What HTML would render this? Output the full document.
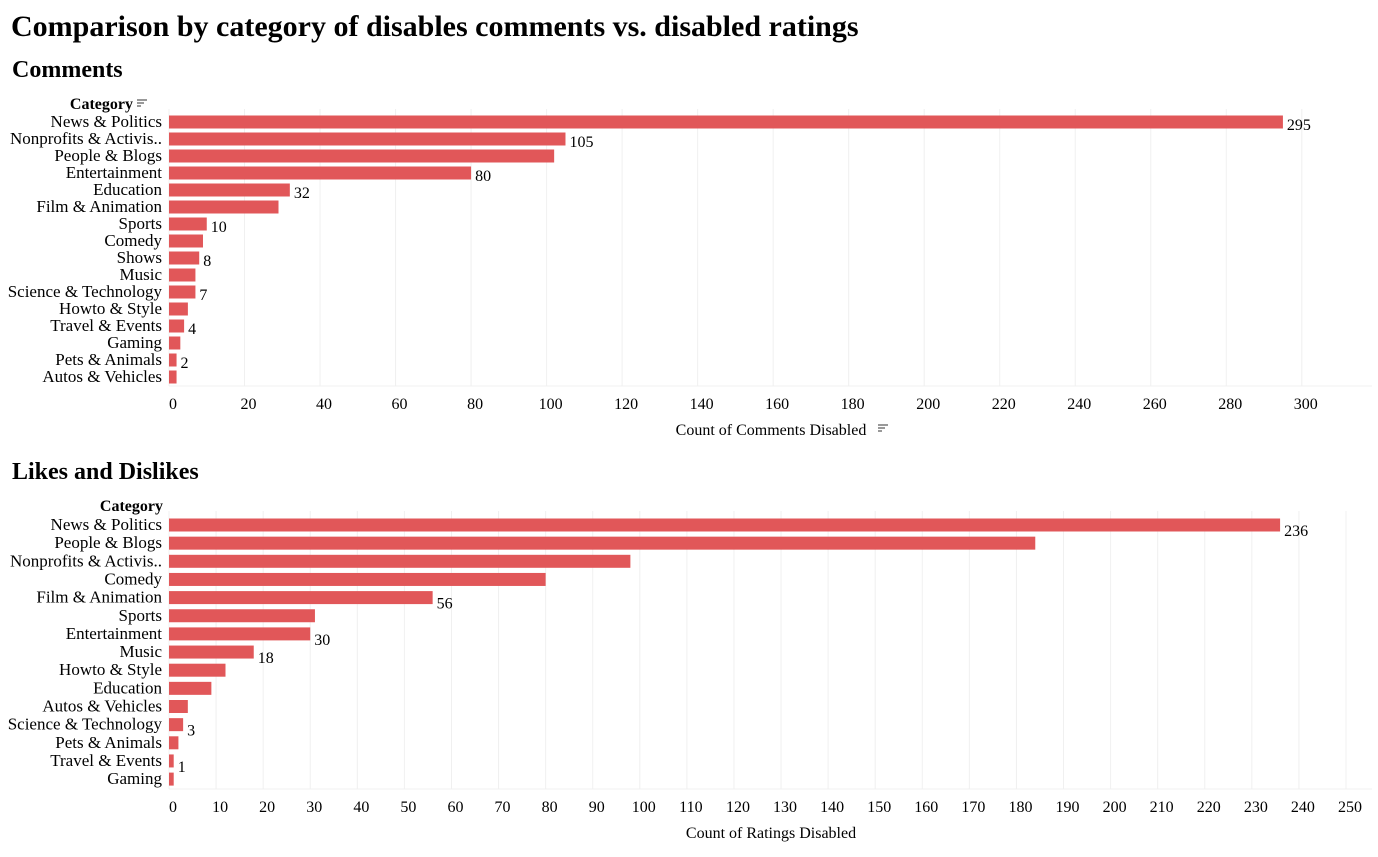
<!DOCTYPE html>
<html><head><meta charset="utf-8"><style>
body{margin:0;background:#fff;font-family:"Liberation Serif",serif;}
svg text{font-family:"Liberation Serif",serif;}
</style></head><body>
<svg id="c" width="1378" height="852">
<text x="11" y="36" font-size="30" font-weight="bold">Comparison by category of disables comments vs. disabled ratings</text>
<text x="12" y="77" font-size="24" font-weight="bold">Comments</text>
<text x="12" y="479" font-size="24" font-weight="bold">Likes and Dislikes</text>
<g stroke="#555" stroke-width="1.2"><line x1="137" x2="147" y1="100" y2="100"/><line x1="137" x2="144" y1="103" y2="103"/><line x1="137" x2="141" y1="106" y2="106"/></g>
<g stroke="#555" stroke-width="1.2"><line x1="878" x2="888" y1="425" y2="425"/><line x1="878" x2="885" y1="428" y2="428"/><line x1="878" x2="882" y1="431" y2="431"/></g>
<g id="g1"></g><g id="g2"></g>
</svg>
<script>
const cats1=["News & Politics","Nonprofits & Activis..","People & Blogs","Entertainment","Education","Film & Animation","Sports","Comedy","Shows","Music","Science & Technology","Howto & Style","Travel & Events","Gaming","Pets & Animals","Autos & Vehicles"];
const vals1=[295,105,102,80,32,29,10,9,8,7,7,5,4,3,2,2];
const lbl1=[true,true,false,true,true,false,true,false,true,false,true,false,true,false,true,false];
const ticks1=[0,20,40,60,80,100,120,140,160,180,200,220,240,260,280,300];
const cats2=["News & Politics","People & Blogs","Nonprofits & Activis..","Comedy","Film & Animation","Sports","Entertainment","Music","Howto & Style","Education","Autos & Vehicles","Science & Technology","Pets & Animals","Travel & Events","Gaming"];
const vals2=[236,184,98,80,56,31,30,18,12,9,4,3,2,1,1];
const lbl2=[true,false,false,false,true,false,true,true,false,false,false,true,false,true,false];
const ticks2=[0,10,20,30,40,50,60,70,80,90,100,110,120,130,140,150,160,170,180,190,200,210,220,230,240,250];
const NS="http://www.w3.org/2000/svg";
function mk(p,t,a){const e=document.createElementNS(NS,t);for(const k in a)e.setAttribute(k,a[k]);p.appendChild(e);return e;}
function draw(g,cats,vals,lbl,ticks,o){
  const x=v=>o.x0+v*o.sc;
  ticks.forEach(t=>{
    const l=mk(g,'line',{x1:x(t),x2:x(t),y1:o.top,y2:o.axisY,stroke:'#f0f0f0'});
    
    
    const tx=mk(g,'text',{x:x(t)+4,y:o.axisY+23,'font-size':16,'text-anchor':'middle'});tx.textContent=t;
    
    
  });
  const ax=mk(g,'line',{x1:o.x0,x2:1372,y1:o.axisY,y2:o.axisY,stroke:'#f0f0f0'});
  
  
  const h=mk(g,'text',{x:o.hdrX,y:o.top,'font-size':16,'font-weight':'bold','text-anchor':'end'});h.textContent='Category';
  
  
  cats.forEach((c,i)=>{
    const cy=o.first+i*o.step;
    const t=mk(g,'text',{x:162,y:cy+5,'font-size':17,'text-anchor':'end'});t.textContent=c;
    
    
    const b=mk(g,'rect',{x:o.x0,y:cy-6.5,width:Math.max(1,vals[i]*o.sc),height:13,fill:'#e15759'});
    
    
    if(lbl[i]){const v=mk(g,'text',{x:x(vals[i])+4,y:cy+o.lblDy,'font-size':16});v.textContent=vals[i];
      
      }
  });
  const at=mk(g,'text',{x:o.titleX,y:o.axisY+49,'font-size':16,'text-anchor':'middle'});at.textContent=o.title;
  
  
}
draw(document.getElementById('g1'),cats1,vals1,lbl1,ticks1,{x0:169,sc:3.776,top:109,axisY:386,first:122,step:17,hdrX:133,lblDy:8,titleX:771,title:'Count of Comments Disabled'});
draw(document.getElementById('g2'),cats2,vals2,lbl2,ticks2,{x0:169,sc:4.708,top:511,axisY:789,first:525,step:18.15,hdrX:163,lblDy:11,titleX:771,title:'Count of Ratings Disabled'});
</script>
</body></html>
